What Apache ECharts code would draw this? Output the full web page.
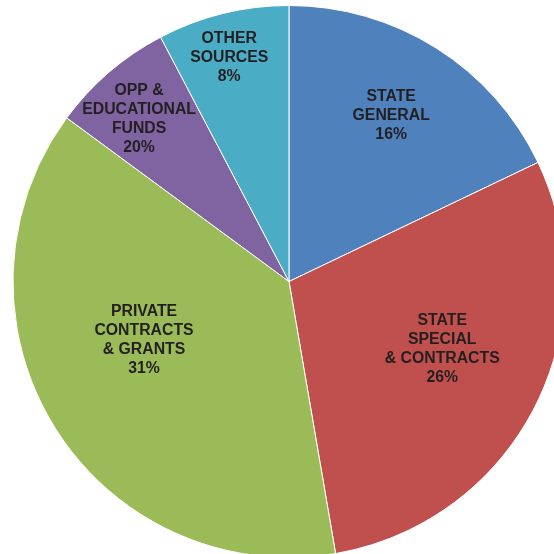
<!DOCTYPE html>
<html>
<head>
<meta charset="utf-8">
<script src="https://cdn.jsdelivr.net/npm/echarts@6/dist/echarts.min.js"></script>
<style>
html, body { margin: 0; padding: 0; background: #ffffff; }
#chart { width: 554px; height: 554px; }
</style>
</head>
<body>
<div id="chart"></div>
<script>
// Slice categories (label text lines)
var categories = [
  "STATE\nGENERAL",
  "STATE\nSPECIAL\n& CONTRACTS",
  "PRIVATE\nCONTRACTS\n& GRANTS",
  "OPP &\nEDUCATIONAL\nFUNDS",
  "OTHER\nSOURCES"
];
// Slice sizes (share of the circle, %)
var values = [17.9, 29.4, 37.8, 7.2, 7.7];
// Percentage text printed on each slice in the original
var pctLabels = ["16%", "26%", "31%", "20%", "8%"];
var colors = ["#4F81BD", "#C0504D", "#9BBB59", "#8064A2", "#4BACC6"];

// label nudges from the default inside position
var labelShift = [[27, -47], [28, 3], [-25, -15], [-58, -55], [-26, -87]];

var chart = echarts.init(document.getElementById('chart'), null, { renderer: 'canvas' });
var data = categories.map(function (c, i) {
  return { name: c, value: values[i], itemStyle: { color: colors[i] } };
});
chart.setOption({
  animation: false,
  backgroundColor: '#ffffff',
  series: [{
    type: 'pie',
    center: [289, 281.5],
    radius: [0, 276],
    startAngle: 90,
    clockwise: true,
    data: data,
    itemStyle: { borderColor: '#ffffff', borderWidth: 1 },
    label: {
      show: true,
      position: 'inside',
      formatter: function (p) { return p.name + '\n' + pctLabels[p.dataIndex]; },
      color: '#231f20',
      fontFamily: 'Liberation Sans, Arial, sans-serif',
      fontWeight: 'bold',
      fontSize: 15.8,
      lineHeight: 19,
      align: 'center'
    },
    labelLine: { show: false },
    labelLayout: function (params) {
      var s = labelShift[params.dataIndex];
      return { dx: s[0], dy: s[1] };
    },
    emphasis: { disabled: true }
  }]
});
</script>
</body>
</html>
